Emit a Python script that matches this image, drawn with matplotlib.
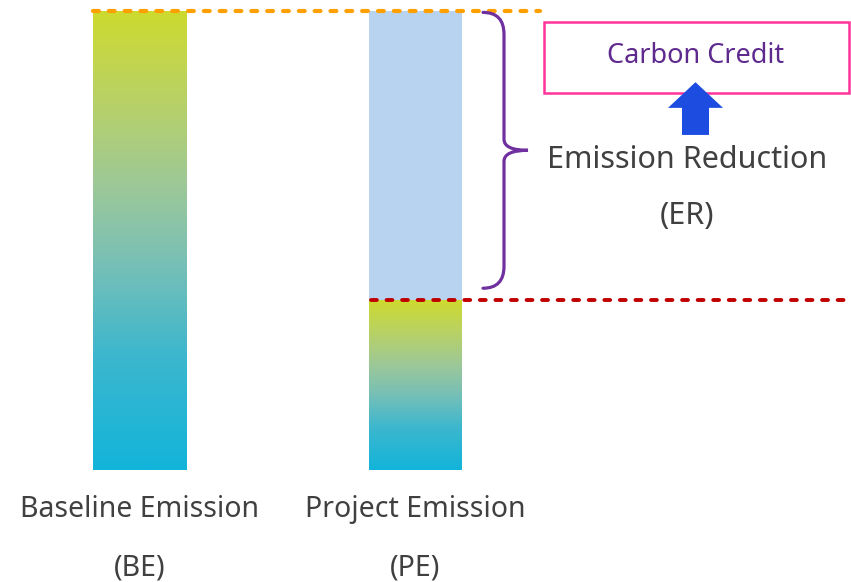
import matplotlib.pyplot as plt
import numpy as np
from matplotlib.colors import LinearSegmentedColormap
from matplotlib.patches import Rectangle, Polygon, PathPatch
from matplotlib.path import Path

# emission levels (baseline normalised to 100)
categories = ["Baseline Emission", "Project Emission"]
short_names = ["(BE)", "(PE)"]
emissions = [100.0, 37.0]
reduction = emissions[0] - emissions[1]

plt.rcParams["font.family"] = ["Noto Sans", "DejaVu Sans"]

TEXT_GREY = "#404040"
grad = LinearSegmentedColormap.from_list(
    "emis", [(0.0, "#12B4DA"), (0.25, "#3DB7CE"), (0.45, "#78C0B6"),
             (0.62, "#9DC898"), (0.82, "#BAD262"), (1.0, "#CDDA2F")])

fig = plt.figure(figsize=(8.51, 5.82), dpi=100)
ax = fig.add_axes([0, 0, 1, 1])
ax.set_xlim(0, 851)
ax.set_ylim(-24.4, 102.4)
ax.axis("off")

bar_x = [140, 415.5]
bar_w = [94, 93]
ramp = np.linspace(0, 1, 256).reshape(-1, 1)

for cx, w, val, name, short in zip(bar_x, bar_w, emissions, categories, short_names):
    ax.imshow(ramp, cmap=grad, origin="lower", aspect="auto",
              extent=(cx - w / 2, cx + w / 2, 0, val), zorder=2)
    ax.text(cx, -8.7, name, ha="center", va="center", fontsize=20.5, color=TEXT_GREY)
    ax.text(cx, -21.3, short, ha="center", va="center", fontsize=20.5, color=TEXT_GREY)

# reduction part of the project bar
ax.add_patch(Rectangle((bar_x[1] - bar_w[1] / 2, emissions[1]), bar_w[1], reduction,
                       facecolor="#B8D3EF", edgecolor="none", zorder=2))

# reference levels
ax.plot([93, 540], [emissions[0], emissions[0]], color="#FFA000", lw=3,
        dashes=(1.4, 2.4), dash_capstyle="round", zorder=3)
ax.plot([371, 855], [emissions[1], emissions[1]], color="#C00000", lw=2.8,
        dashes=(1.5, 2.5), dash_capstyle="round", zorder=3)

# curly brace spanning the reduction
top, bot = emissions[0] - 0.3, emissions[1] + 2.6
mid = (top + bot) / 2
x0, xv, xt = 483, 504, 528
ry = 4.8
verts = [(x0, top), (xv, top), (xv, top - ry),
         (xv, mid + ry * 0.5), (xv, mid), (xt, mid),
         (xv, mid), (xv, mid - ry * 0.5),
         (xv, bot + ry), (xv, bot), (x0, bot)]
codes = [Path.MOVETO, Path.CURVE3, Path.CURVE3,
         Path.LINETO, Path.CURVE3, Path.CURVE3,
         Path.CURVE3, Path.CURVE3,
         Path.LINETO, Path.CURVE3, Path.CURVE3]
ax.add_patch(PathPatch(Path(verts, codes), facecolor="none", edgecolor="#7030A0",
                       lw=2.3, capstyle="round", zorder=3))

ax.text(687, 67.5, "Emission Reduction", ha="center", va="center", fontsize=22, color=TEXT_GREY)
ax.text(687, 55.3, "(ER)", ha="center", va="center", fontsize=22, color=TEXT_GREY)

# carbon credit box and arrow
ax.add_patch(Rectangle((544, 82.1), 305, 15.5, facecolor="white", edgecolor="#FF3399",
                       lw=1.8, zorder=3))
ax.text(696, 90.2, "Carbon Credit", ha="center", va="center", fontsize=19.5, color="#5E2A8E",
        zorder=5)
ax.add_patch(Polygon([(682, 73.0), (709, 73.0), (709, 78.9), (723, 78.9),
                      (695.5, 84.5), (668, 78.9), (682, 78.9)],
                     closed=True, facecolor="#1D4CE0", edgecolor="none", zorder=4))

fig.savefig("out.png", dpi=100)
